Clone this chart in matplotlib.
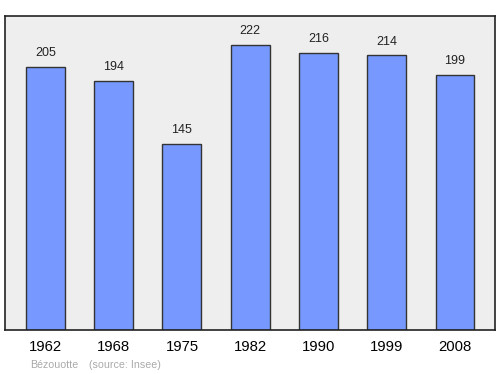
import matplotlib.pyplot as plt
import numpy as np

plt.rcParams['font.family'] = ['Liberation Sans', 'DejaVu Sans']

# Population de Bézouotte par recensement
annees = ['1962', '1968', '1975', '1982', '1990', '1999', '2008']
population = [205, 194, 145, 222, 216, 214, 199]

fig = plt.figure(figsize=(5, 3.74), dpi=100)
ax = fig.add_axes([0.01, 0.1176, 0.98, 0.8396])
ax.set_facecolor('#eeeeee')

x = np.arange(len(annees))
ax.bar(x, population, width=0.571, color='#7799ff', edgecolor='#333333', linewidth=1)

for xi, val in zip(x, population):
    ax.annotate(str(val), (xi, val), xytext=(0, 5.5), textcoords='offset points',
                ha='center', va='bottom', fontsize=9, color='#222222')

ax.set_xlim(-0.593, 6.586)
ax.set_ylim(0, 244.7)
ax.set_yticks([])
ax.set_xticks(x)
ax.set_xticklabels(annees, fontsize=10.7)
ax.tick_params(axis='x', length=0, pad=7)
for s in ax.spines.values():
    s.set_color('#222222')
    s.set_linewidth(1.2)

fig.text(0.06, 0.016, 'Bézouotte', fontsize=7.7, color='#aaaaaa')
fig.text(0.178, 0.016, '(source: Insee)', fontsize=7.7, color='#aaaaaa')

plt.savefig('out.png')
